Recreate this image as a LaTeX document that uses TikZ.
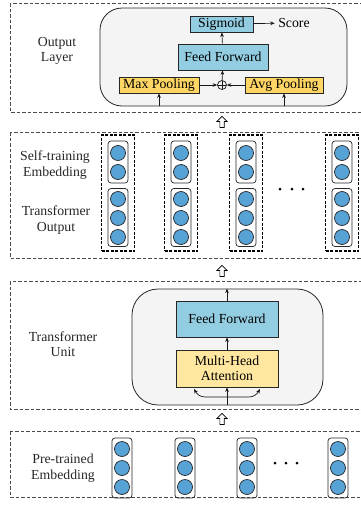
\documentclass[tikz,border=0pt]{standalone}
\usepackage{fontspec}
\setmainfont{Liberation Serif}
\usetikzlibrary{arrows.meta,shapes.arrows,calc}

\definecolor{boxblue}{RGB}{146,205,226}
\definecolor{poolyellow}{RGB}{255,214,100}
\definecolor{attnyellow}{RGB}{255,231,160}
\definecolor{cellblue}{RGB}{88,163,214}
\definecolor{unitgray}{RGB}{244,244,244}

\begin{document}
\begin{tikzpicture}[x=1pt,y=-1pt,
  font=\fontsize{13.8}{15.5}\selectfont,
  layer/.style={draw=black!70, line width=0.6pt, dash pattern=on 3.5pt off 2pt},
  unitbox/.style={draw=black!85, fill=unitgray, line width=0.8pt, inner sep=0pt},
  bluebox/.style={draw=black!85, fill=boxblue, line width=0.7pt, inner sep=0pt},
  poolbox/.style={draw=black!85, fill=poolyellow, line width=0.7pt, inner sep=0pt},
  attnbox/.style={draw=black!85, fill=attnyellow, line width=0.7pt, inner sep=0pt, align=center},
  cell/.style={circle, draw=black!85, fill=cellblue, minimum size=15pt, inner sep=0pt, line width=0.7pt},
  grp/.style={draw=black!85, rounded corners=3pt, line width=0.7pt, minimum width=20pt, inner sep=0pt},
  colbox/.style={draw=black, line width=1.8pt, dash pattern=on 3pt off 1.5pt, minimum width=33pt, inner sep=0pt},
  arr/.style={-{Stealth[length=4.5pt,width=3.6pt]}, line width=0.7pt, black!90},
  biarr/.style={{Stealth[length=4.5pt,width=3.6pt]}-{Stealth[length=4.5pt,width=3.6pt]}, line width=0.7pt, black!90},
  hollow/.style={single arrow, draw=black, line width=0.7pt, fill=white, shape border rotate=90,
    inner sep=1.8pt, minimum height=11pt, single arrow head extend=3pt},
  lbl/.style={align=center, text=black!85},
  dotc/.style={circle, fill=black, inner sep=0pt, minimum size=3pt}
]
\useasboundingbox (0,0) rectangle (361,509);
\clip (0,0) rectangle (361,509);

% ---------- output layer ----------
\draw[layer] (10,3) rectangle (380,112);
\node[lbl] (outlbl) at (57,51) {Output\\Layer};
\node[unitbox, rounded corners=22pt, minimum width=247pt, minimum height=98pt] (outunit) at (223.5,57) {};
\node[bluebox, minimum width=63pt, minimum height=16pt] (sig) at (221.5,24) {Sigmoid};
\node (score) at (294,23) {Score};
\node[bluebox, minimum width=90pt, minimum height=26pt] (ffo) at (223,57) {Feed Forward};
\node[poolbox, minimum width=80pt, minimum height=16pt] (maxp) at (159,85) {Max Pooling};
\node[poolbox, minimum width=78pt, minimum height=16pt] (avgp) at (284,85) {Avg Pooling};
\node[circle, draw=black!90, line width=0.7pt, minimum size=9pt, inner sep=0pt,
  path picture={\draw[line width=0.6pt] (path picture bounding box.north) -- (path picture bounding box.south)
    (path picture bounding box.west) -- (path picture bounding box.east);}] (plus) at (222,85) {};
\draw[arr] (sig) -- (score);
\draw[arr] (ffo) -- (sig);
\draw[arr] (plus) -- (ffo);
\draw[arr] (maxp) -- (plus);
\draw[arr] (avgp) -- (plus);
\draw[arr] (outunit.south -| maxp.south) -- (maxp);
\draw[arr] (outunit.south -| avgp.south) -- (avgp);

\node[hollow] (up1) at (222,123) {};

% ---------- self-training embedding + transformer output ----------
\draw[layer] (10,132) rectangle (380,258);
\node[lbl] (selflbl) at (55,165) {Self-training\\Embedding};
\node[lbl] (toutlbl) at (56,220) {Transformer\\Output};
\foreach \x [count=\i] in {118,181,246,342} {
  \node[colbox, minimum height=116pt] (col\i) at (\x,193) {};
  \node[grp, minimum height=42pt] (se\i) at (\x,162) {};
  \node[grp, minimum height=58pt] (to\i) at (\x,217.5) {};
  \node[cell] (sea\i) at (\x,153) {};
  \node[cell] (seb\i) at (\x,172) {};
  \node[cell] (toa\i) at (\x,199) {};
  \node[cell] (tob\i) at (\x,218) {};
  \node[cell] (toc\i) at (\x,237) {};
}
\node[dotc] (d1) at (280,189) {};
\node[dotc] (d2) at (292,189) {};
\node[dotc] (d3) at (303,189) {};

\node[hollow] (up2) at (222,272) {};

% ---------- transformer unit ----------
\draw[layer] (10,281) rectangle (380,409);
\node[lbl] (tulbl) at (63,344) {Transformer\\Unit};
\node[unitbox, rounded corners=26pt, minimum width=191pt, minimum height=116pt] (tunit) at (227.5,347) {};
\node[bluebox, minimum width=102pt, minimum height=36pt] (fft) at (227,319) {Feed Forward};
\node[attnbox, minimum width=102pt, minimum height=37pt] (mha) at (227,368.5) {Multi-Head\\Attention};
\draw[arr] (fft.north) -- (fft.north |- tunit.north);
\draw[arr] (mha) -- (fft);
\draw[arr] (mha.south |- tunit.south) -- (mha.south);
% the input fans out to the three attention inputs
\coordinate (splitl) at (205,397);
\coordinate (splitr) at (249,397);
\coordinate (tipl) at (194,389);
\coordinate (tipr) at (260,389);
\draw[biarr] (tipl) to[out=-60,in=180] (splitl) -- (splitr) to[out=0,in=-120] (tipr);

\node[hollow] (up3) at (222,420) {};

% ---------- pre-trained embedding ----------
\draw[layer] (10,431) rectangle (380,497);
\node[lbl] (prelbl) at (63,468) {Pre-trained\\Embedding};
\foreach \x [count=\i] in {122,185,247,338} {
  \node[grp, minimum height=60pt] (pe\i) at (\x,468) {};
  \node[cell] (pea\i) at (\x,449) {};
  \node[cell] (peb\i) at (\x,468) {};
  \node[cell] (pec\i) at (\x,487) {};
}
\node[dotc] (e1) at (275,463) {};
\node[dotc] (e2) at (286,463) {};
\node[dotc] (e3) at (297,463) {};
\end{tikzpicture}
\end{document}
